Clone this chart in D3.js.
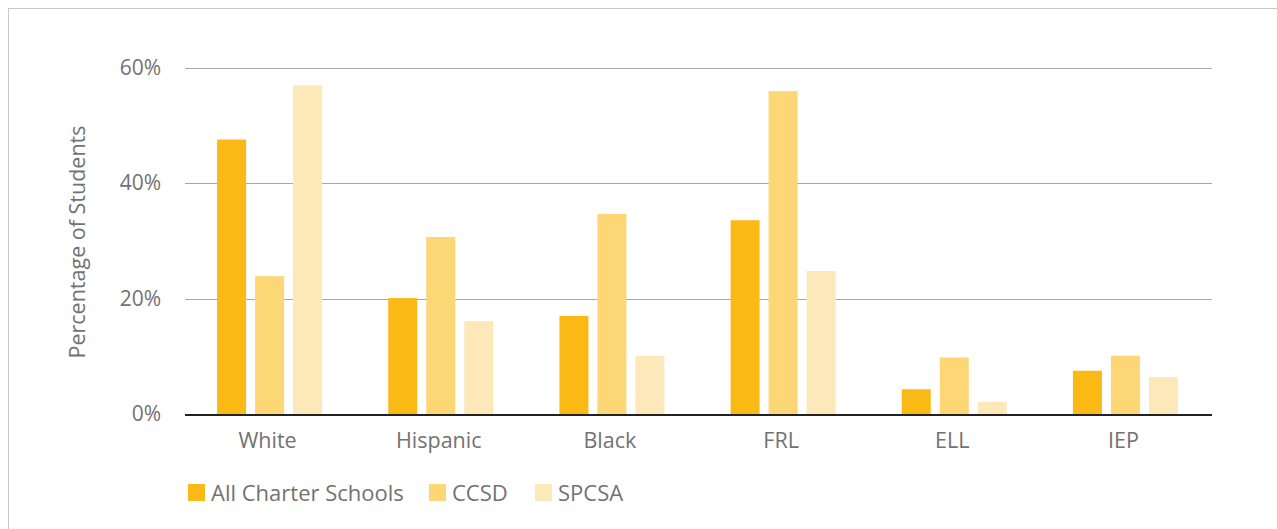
<!DOCTYPE html>
<html>
<head>
<meta charset="utf-8">
<script src="https://cdn.jsdelivr.net/npm/d3@7"></script>
<style>
  body { margin: 0; background: #fff; }
  text { font-family: "Open Sans", Lato, sans-serif; fill: #727272; }
</style>
</head>
<body>
<div id="chart"></div>
<script>
// data
let categories = ["White", "Hispanic", "Black", "FRL", "ELL", "IEP"]
let series = ["All Charter Schools", "CCSD", "SPCSA"]
let allCharter = [47.6, 20.1, 17.0, 33.6, 4.3, 7.5]
let ccsd = [23.9, 30.7, 34.7, 56.0, 9.8, 10.1]
let spcsa = [57.0, 16.1, 10.1, 24.8, 2.1, 6.4]
let yTicks = [0, 20, 40, 60]
let colors = ["#fbb916", "#fdd675", "#fde8b9"]

let values = [allCharter, ccsd, spcsa]
let width = 1277, height = 529

let svg = d3.select("#chart").append("svg")
    .attr("width", width)
    .attr("height", height)

// outer frame
svg.append("rect")
    .attr("x", 8.5).attr("y", 8.5)
    .attr("width", width + 10).attr("height", height + 10)
    .attr("fill", "none")
    .attr("stroke", "#c8c8c8")
    .attr("stroke-width", 1)

let margin = {left: 185, right: 65, top: 68, bottom: 115}
let plotW = width - margin.left - margin.right
let plotH = 414 - margin.top

let x = d3.scaleBand()
    .domain(categories)
    .range([margin.left, margin.left + plotW])

let y = d3.scaleLinear()
    .domain([0, 60])
    .range([414, 414 - plotH])

let barW = 29, barStep = 38

// gridlines
svg.append("g")
  .selectAll("line")
  .data(yTicks.filter(function(d) { return d > 0 }))
  .enter().append("line")
    .attr("x1", margin.left).attr("x2", margin.left + plotW)
    .attr("y1", function(d) { return Math.round(y(d)) + 0.5 })
    .attr("y2", function(d) { return Math.round(y(d)) + 0.5 })
    .attr("stroke", "#a8a8a8")
    .attr("stroke-width", 1.2)

// y tick labels
svg.append("g")
  .selectAll("text")
  .data(yTicks)
  .enter().append("text")
    .attr("x", 161)
    .attr("y", function(d) { return y(d) + 7 })
    .attr("text-anchor", "end")
    .style("font-size", "21px")
    .text(function(d) { return d + "%" })

// bars
series.forEach(function(s, si) {
  svg.append("g")
    .selectAll("rect")
    .data(values[si])
    .enter().append("rect")
      .attr("x", function(d, i) {
        return x(categories[i]) + x.bandwidth() / 2 - barW / 2 + (si - 1) * barStep - 1
      })
      .attr("y", function(d) { return y(d) })
      .attr("width", barW)
      .attr("height", function(d) { return y(0) - y(d) })
      .attr("fill", colors[si])
})

// baseline
svg.append("line")
    .attr("x1", margin.left).attr("x2", margin.left + plotW)
    .attr("y1", 415).attr("y2", 415)
    .attr("stroke", "#222")
    .attr("stroke-width", 2)

// category labels
svg.append("g")
  .selectAll("text")
  .data(categories)
  .enter().append("text")
    .attr("x", function(d) { return x(d) + x.bandwidth() / 2 - 3 })
    .attr("y", 448)
    .attr("text-anchor", "middle")
    .style("font-size", "21.5px")
    .text(function(d) { return d })

// y axis title
svg.append("text")
    .attr("transform", "translate(85,242) rotate(-90)")
    .attr("text-anchor", "middle")
    .style("font-size", "21.5px")
    .text("Percentage of Students")

// legend
let legendX = [188, 429, 535]
let legend = svg.append("g")
  .selectAll("g")
  .data(series)
  .enter().append("g")
    .attr("transform", function(d, i) { return "translate(" + legendX[i] + ",484)" })

legend.append("rect")
    .attr("width", 17).attr("height", 17)
    .attr("fill", function(d, i) { return colors[i] })

legend.append("text")
    .attr("x", 23).attr("y", 17)
    .style("font-size", "22px")
    .text(function(d) { return d })
</script>
</body>
</html>
